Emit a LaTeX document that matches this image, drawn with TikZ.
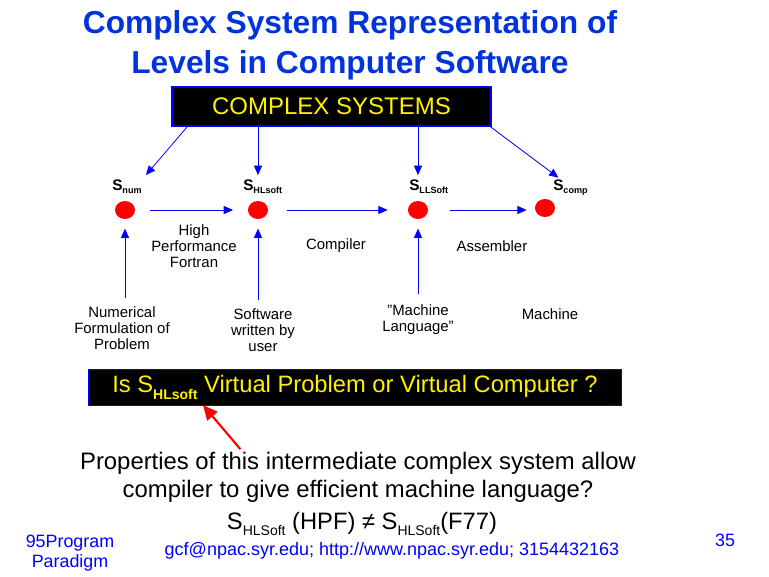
\documentclass[tikz,border=0pt]{standalone}
\usepackage{fontspec}
\setmainfont{Liberation Sans}
\usetikzlibrary{calc,arrows.meta,shapes.geometric}
\definecolor{titleblue}{RGB}{0,51,221}
\definecolor{linkblue}{RGB}{0,0,255}
\tikzset{
	arr/.style={draw=linkblue, line width=0.6pt, -{Triangle[length=7pt,width=6pt]}},
	dot/.style={ellipse, fill=red, minimum width=15pt, minimum height=13.5pt, inner sep=0pt},
	blackbox/.style={draw=linkblue, line width=1.2pt, fill=black, text=yellow},
	slab/.style={font=\bfseries\fontsize{11.5}{12}\selectfont, inner sep=0pt},
	lab/.style={align=center, font=\fontsize{11.2}{12}\selectfont, inner sep=0pt}
}
\newcommand{\Ssub}[1]{S\raisebox{-0.45ex}{\fontsize{6.8}{7}\selectfont #1}}
\begin{document}
\begin{tikzpicture}[x=0.75pt, y=-0.75pt]
			%%%%% START %%%%%
			\useasboundingbox (0, 0) rectangle (769, 576);
			
			\node[titleblue, font=\bfseries\fontsize{23.8}{30}\selectfont, align=center] (title) at (350, 45) {Complex System Representation of\\Levels in Computer Software};
			
			\node[blackbox, minimum width=239pt, minimum height=29pt, font=\fontsize{18}{20}\selectfont] (top) at (331.5, 106.5) {COMPLEX SYSTEMS};
			
			\node[dot] (num) at (125, 210) {};
			\node[dot] (hl) at (258, 210) {};
			\node[dot] (ll) at (418, 210) {};
			\node[dot] (comp) at (545, 208) {};
			
			\node[slab, anchor=base west] (snum) at (112, 190) {\Ssub{num}};
			\node[slab, anchor=base west] (shl) at (243, 190) {\Ssub{HLsoft}};
			\node[slab, anchor=base west] (sll) at (409, 190) {\Ssub{LLSoft}};
			\node[slab, anchor=base west] (scomp) at (553, 190) {\Ssub{comp}};
			
			\draw[arr] ([xshift=12pt]top.south west) -- ([xshift=3pt, yshift=3pt]snum.north east);
			\draw[arr] (top.south west -| hl) -- ([yshift=3pt]shl.north -| hl);
			\draw[arr] (top.south west -| ll) -- ([yshift=3pt]sll.north -| ll);
			\draw[arr] ([xshift=-1pt]top.south east) -- ([xshift=-9pt, yshift=1pt]scomp.north);
			
			\draw[arr, shorten <=11pt, shorten >=11pt] (num) -- (hl);
			\draw[arr, shorten <=14pt, shorten >=15pt] (hl) -- (ll);
			\draw[arr, shorten <=16pt, shorten >=6pt] (ll.east) -- (ll.east -| comp.west);
			
			\node[lab] (hpf) at (194, 246) {High\\Performance\\Fortran};
			\node[lab] (compiler) at (336, 246) {Compiler};
			\node[lab] (assembler) at (492, 246) {Assembler};
			
			\node[lab] (numform) at (122, 328) {Numerical\\Formulation of\\Problem};
			\node[lab] (user) at (263, 330) {Software\\written by\\user};
			\node[lab] (mlang) at (418, 320) {"Machine\\Language"};
			\node[lab] (machine) at (550, 314) {Machine};
			
			\draw[arr, shorten <=6pt, shorten >=7pt] (numform.north -| num) -- (num);
			\draw[arr, shorten <=6pt, shorten >=7pt] (user.north -| hl) -- (hl);
			\draw[arr, shorten <=8pt, shorten >=7pt] (mlang.north -| ll) -- (ll);
			
			\node[blackbox, line width=0.9pt, minimum width=400pt, minimum height=27.5pt, font=\fontsize{17.8}{20}\selectfont] (question) at (355, 387.5) {Is S\raisebox{-0.5ex}{\fontsize{10.5}{12}\bfseries\selectfont HLsoft} Virtual Problem or Virtual Computer ?};
			
			\node[align=center, font=\fontsize{17.9}{21}\selectfont] (props) at (358, 477) {Properties of this intermediate complex system allow\\compiler to give efficient machine language?};
			
			\draw[draw=red, line width=1.6pt, -{Triangle[length=11pt,width=10pt]}] (props.north west) ++(165, 2) coordinate (tail) -- ([xshift=-114pt, yshift=1pt]question.south);
			
			\node[font=\fontsize{17.8}{20}\selectfont, inner sep=1pt] (ineq) at (362, 524) {S\raisebox{-0.5ex}{\fontsize{10.5}{12}\selectfont HLSoft} (HPF) ≠ S\raisebox{-0.5ex}{\fontsize{10.5}{12}\selectfont HLSoft}(F77)};
			
			\node[linkblue, align=center, font=\fontsize{13.4}{15}\selectfont] (series) at (70, 553) {95Program\\Paradigm};
			\node[linkblue, font=\fontsize{13.5}{15}\selectfont, inner sep=1pt] (contact) at (392, 551) {gcf@npac.syr.edu; http://www.npac.syr.edu; 3154432163};
			\node[linkblue, font=\fontsize{13.4}{15}\selectfont] (page) at (725, 540) {35};
			%%%%% END %%%%%
		\end{tikzpicture}
\end{document}
